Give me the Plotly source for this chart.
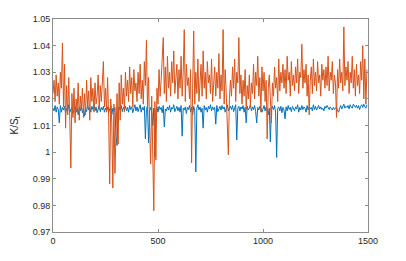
import plotly.graph_objects as go

step = 5
orange = [
1.022, 1.027, 1.019, 1.029, 1.021, 1.026, 1.018, 1.030, 1.024, 1.041,
1.017, 1.033, 1.009, 1.025, 1.014, 1.028, 1.012, 0.994, 1.022, 1.013,
1.024, 1.011, 1.020, 1.015, 1.026, 1.012, 1.021, 1.016, 1.024, 1.013,
1.022, 1.014, 1.027, 1.017, 1.023, 1.012, 1.028, 1.019, 1.024, 1.015,
1.026, 1.018, 1.021, 1.029, 1.016, 1.025, 1.019, 1.027, 1.034, 1.017,
1.024, 1.015, 1.028, 1.013, 0.988, 1.020, 1.011, 0.9865, 1.018, 0.992,
1.006, 1.022, 1.003, 1.026, 1.012, 1.029, 1.018, 1.024, 1.015, 1.030,
1.021, 1.027, 1.019, 1.032, 1.022, 1.028, 1.017, 1.031, 1.023, 1.026,
1.019, 1.030, 1.022, 1.033, 1.020, 1.027, 1.018, 1.034, 1.025, 1.042,
1.016, 1.028, 1.0095, 0.9955, 1.021, 1.003, 0.978, 1.019, 0.997, 1.024,
1.018, 1.031, 1.021, 1.027, 1.035, 1.043, 1.022, 1.032, 1.019, 1.036,
1.024, 1.030, 1.021, 1.034, 1.026, 1.038, 1.022, 1.029, 1.033, 1.020,
1.031, 1.024, 1.036, 1.021, 1.030, 1.046, 1.019, 1.033, 1.025, 1.028,
1.020, 1.031, 0.996, 1.024, 1.0455, 1.018, 1.030, 1.022, 1.035, 1.019,
1.027, 1.033, 1.021, 1.038, 1.024, 1.030, 1.020, 1.034, 1.026, 1.029,
1.022, 1.035, 1.019, 1.028, 1.032, 1.021, 1.030, 1.024, 1.037, 1.020,
1.029, 1.023, 1.046, 1.018, 1.031, 1.022, 1.010, 0.999, 1.020, 1.027,
1.021, 1.032, 1.024, 1.035, 1.019, 1.030, 1.026, 1.043, 1.022, 1.029,
1.018, 1.027, 1.021, 1.031, 1.016, 1.025, 1.020, 1.029, 1.017, 1.026,
1.022, 1.033, 1.020, 1.030, 1.025, 1.036, 1.021, 1.028, 1.015, 1.032,
1.023, 1.030, 1.019, 1.027, 1.005, 1.024, 1.029, 1.020, 1.011, 1.026,
1.021, 1.032, 1.024, 1.028, 1.019, 1.035, 1.023, 1.030, 1.026, 1.033,
1.024, 1.031, 1.022, 1.036, 1.027, 1.030, 1.021, 1.034, 1.025, 1.029,
1.023, 1.032, 1.026, 1.035, 1.022, 1.030, 1.028, 1.0405, 1.024, 1.031,
1.026, 1.033, 1.021, 1.029, 1.014, 1.027, 1.032, 1.022, 1.035, 1.025,
1.030, 1.023, 1.034, 1.026, 1.029, 1.021, 1.033, 1.027, 1.031, 1.024,
1.032, 1.025, 1.036, 1.023, 1.030, 1.027, 1.034, 1.022, 1.029, 1.026,
1.013, 1.031, 1.024, 1.035, 1.026, 1.030, 1.023, 1.047, 1.025, 1.032,
1.027, 1.034, 1.022, 1.030, 1.026, 1.036, 1.024, 1.031, 1.021, 1.033,
1.025, 1.029, 1.022, 1.034, 1.027, 1.040, 1.020, 1.035, 1.018, 1.031,
]
blue = [
1.0165, 1.0155, 1.0175, 1.0150, 1.0170, 1.0160, 1.0110, 1.0175, 1.0150, 1.0168,
1.0158, 1.0172, 1.0148, 1.0165, 1.0155, 1.0178, 1.0150, 1.0162, 1.0170, 1.0145,
1.0160, 1.0172, 1.0150, 1.0165, 1.0140, 1.0168, 1.0155, 1.0175, 1.0148, 1.0162,
1.0135, 1.0165, 1.0152, 1.0178, 1.0158, 1.0168, 1.0150, 1.0172, 1.0160, 1.0182,
1.0155, 1.0170, 1.0148, 1.0165, 1.0175, 1.0152, 1.0168, 1.0158, 1.0172, 1.0150,
1.0165, 1.0155, 1.0170, 1.0148, 1.0162, 1.0175, 1.0140, 1.0165, 1.0152, 1.0168,
1.0060, 1.0025, 1.0150, 1.0170, 1.0158, 1.0175, 1.0152, 1.0168, 1.0160, 1.0172,
1.0155, 1.0168, 1.0150, 1.0175, 1.0160, 1.0170, 1.0148, 1.0165, 1.0178, 1.0155,
1.0170, 1.0152, 1.0165, 1.0178, 1.0150, 1.0168, 1.0158, 1.0172, 1.0050, 1.0160,
1.0175, 1.0035, 1.0155, 1.0168, 1.0150, 1.0100, 1.0165, 0.9982, 1.0158, 1.0170,
1.0150, 1.0172, 1.0160, 1.0168, 1.0148, 1.0175, 1.0095, 1.0162, 1.0155, 1.0170,
1.0158, 1.0175, 1.0150, 1.0168, 1.0162, 1.0178, 1.0152, 1.0165, 1.0172, 1.0155,
1.0168, 1.0150, 1.0175, 1.0060, 1.0165, 1.0158, 1.0170, 1.0145, 1.0168, 1.0160,
1.0175, 1.0152, 1.0168, 1.0140, 1.0172, 1.0155, 0.9926, 1.0165, 1.0178, 1.0158,
1.0170, 1.0150, 1.0165, 1.0090, 1.0175, 1.0158, 1.0168, 1.0150, 1.0172, 1.0162,
1.0178, 1.0155, 1.0170, 1.0160, 1.0168, 1.0105, 1.0175, 1.0152, 1.0165, 1.0172,
1.0158, 1.0175, 1.0162, 1.0170, 1.0150, 1.0168, 1.0178, 1.0155, 1.0165, 1.0172,
1.0160, 1.0175, 1.0152, 1.0168, 1.0178, 1.0046, 1.0165, 1.0172, 1.0155, 1.0170,
1.0162, 1.0175, 1.0150, 1.0168, 1.0110, 1.0172, 1.0158, 1.0165, 1.0178, 1.0155,
1.0170, 1.0160, 1.0175, 1.0152, 1.0110, 1.0168, 1.0158, 1.0172, 1.0165, 1.0150,
1.0168, 1.0175, 1.0155, 1.0170, 1.0162, 1.0140, 1.0165, 1.0038, 1.0158, 1.0172,
1.0160, 1.0175, 1.0150, 0.9980, 1.0165, 1.0170, 1.0155, 1.0172, 1.0148, 1.0168,
1.0158, 1.0125, 1.0170, 1.0155, 1.0175, 1.0160, 1.0168, 1.0152, 1.0172, 1.0165,
1.0155, 1.0170, 1.0162, 1.0178, 1.0150, 1.0168, 1.0158, 1.0175, 1.0160, 1.0170,
1.0165, 1.0150, 1.0175, 1.0158, 1.0170, 1.0162, 1.0168, 1.0155, 1.0178, 1.0160,
1.0172, 1.0158, 1.0168, 1.0175, 1.0162, 1.0170, 1.0160, 1.0165, 1.0155, 1.0172,
1.0165, 1.0175, 1.0168, 1.0160, 1.0170, 1.0163, 1.0158, 1.0168, 1.0160, 1.0165,
1.0170, 1.0155, 1.0150, 1.0165, 1.0175, 1.0162, 1.0170, 1.0180, 1.0165, 1.0172,
1.0168, 1.0175, 1.0162, 1.0178, 1.0170, 1.0165, 1.0180, 1.0172, 1.0168, 1.0176,
1.0165, 1.0175, 1.0160, 1.0172, 1.0178, 1.0168, 1.0180, 1.0170, 1.0165, 1.0178,
]
x_ticks = [0, 500, 1000, 1500]
y_ticks = [0.97, 0.98, 0.99, 1.0, 1.01, 1.02, 1.03, 1.04, 1.05]
y_tick_labels = ["0.97", "0.98", "0.99", "1", "1.01", "1.02", "1.03", "1.04", "1.05"]

x_blue = [i * step for i in range(len(blue))]
x_orange = [i * step for i in range(len(orange))]

fig = go.Figure()
fig.add_trace(go.Scatter(x=x_blue, y=blue, mode="lines",
                         line=dict(color="#0072BD", width=1.0), showlegend=False))
fig.add_trace(go.Scatter(x=x_orange, y=orange, mode="lines",
                         line=dict(color="#D95319", width=1.0), showlegend=False))

font_family = "Liberation Sans, Arial, sans-serif"
axis_common = dict(showgrid=False, zeroline=False, showline=True, linecolor="#8c8c8c",
                   linewidth=1, mirror="ticks", ticks="inside", ticklen=3,
                   tickcolor="#8c8c8c", automargin=False,
                   tickfont=dict(family=font_family, size=9, color="#262626"))
fig.update_xaxes(range=[0, 1500], tickvals=x_ticks, **axis_common)
fig.update_yaxes(range=[0.97, 1.05], tickvals=y_ticks, ticktext=y_tick_labels,
                 title=dict(text="K/S<sub>t</sub>",
                            font=dict(family=font_family, size=10, color="#262626"),
                            standoff=12),
                 **axis_common)
fig.update_layout(width=406, height=261, margin=dict(l=53, r=38, t=19, b=29),
                  paper_bgcolor="white", plot_bgcolor="white", hovermode=False)
fig.write_html("out.html", config={"displayModeBar": False},
               post_script="document.body.style.margin='0';document.body.style.overflow='hidden';")
